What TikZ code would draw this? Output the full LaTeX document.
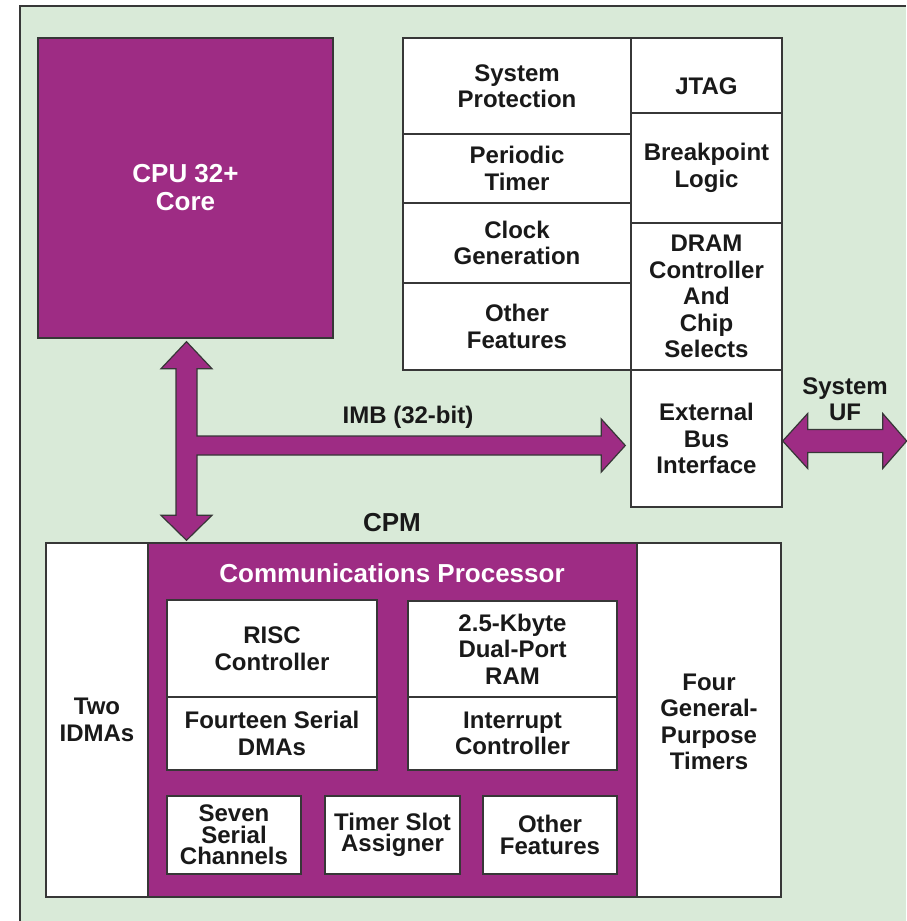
\documentclass[tikz,border=0pt]{standalone}
\usepackage{fontspec}
\setmainfont{Liberation Sans}
\usetikzlibrary{calc}
\definecolor{cpurple}{RGB}{158,44,132}
\definecolor{bggreen}{RGB}{217,234,216}
\definecolor{edge}{RGB}{55,55,55}
\definecolor{ink}{RGB}{25,25,25}
\newcommand\myBody{\bfseries\fontsize{24}{26.5}\selectfont}
\newcommand\myTight{\bfseries\fontsize{24}{21.5}\selectfont}
\newcommand\myBig{\bfseries\fontsize{26}{28}\selectfont}
\tikzset{
  cell/.style={draw=edge, line width=1.4pt, fill=white, inner sep=0pt, align=center, text=ink, font=\myBody},
  pbox/.style={draw=edge, line width=1.4pt, fill=cpurple, inner sep=0pt, align=center, text=white, font=\myBig},
  sz/.style 2 args={minimum width=#1, minimum height=#2},
  txt/.style={align=center, text=ink, font=\myBody, inner sep=0pt},
  wtxt/.style={align=center, text=white, font=\myBig, inner sep=0pt},
  bus/.style={draw=edge, line width=1.2pt, fill=cpurple, line join=miter},
}
\begin{document}
\begin{tikzpicture}[x=1pt,y=-1pt]
\useasboundingbox (0,0) rectangle (906,921);
\fill[white] (0,0) rectangle (906,921);
\fill[bggreen] (20,6) rectangle (906,921);
\draw[edge, line width=2pt] (20,921) -- (20,6) -- (906,6);

% CPU core
\node[pbox, sz={295pt}{300pt}] (cpu) at (185.5,188) {CPU 32+\\Core};

% right table
\node[cell, sz={228pt}{96pt}] (sysprot) at (517,86) {System\\Protection};
\node[cell, sz={228pt}{69pt}] (pit) at (517,168.5) {Periodic\\Timer};
\node[cell, sz={228pt}{80pt}] (clk) at (517,243) {Clock\\Generation};
\node[cell, sz={228pt}{87pt}] (oth1) at (517,326.5) {Other\\Features};
\node[cell, sz={151pt}{75pt}] (jtag) at (706.5,75.5) {};
\node[txt] (jtagt) at (706.5,86) {JTAG};
\node[cell, sz={151pt}{110pt}] (bkpt) at (706.5,168) {Breakpoint\\Logic};
\node[cell, sz={151pt}{147pt}] (dram) at (706.5,296.5) {DRAM\\Controller\\And\\Chip\\Selects};
\node[cell, sz={151pt}{137pt}] (ebi) at (706.5,438.5) {External\\Bus\\Interface};

% labels
\node[txt] (imb) at (408,417) {IMB (32-bit)};
\node[txt, font=\myBig] (cpmlbl) at (392,523) {CPM};
\node[txt] (sysuf) at (845,399) {System\\UF};

% CPM
\node[cell, sz={735pt}{354pt}] (cpm) at (413.5,720) {};
\node[pbox, sz={489pt}{354pt}] (cp) at (392.5,720) {};
\node[wtxt] (cptitle) at (392,573) {Communications Processor};
\node[cell, sz={210pt}{97pt}] (risc) at (272,648.5) {RISC\\Controller};
\node[cell, sz={210pt}{73pt}] (sdma) at (272,733.5) {Fourteen Serial\\DMAs};
\node[cell, sz={209pt}{96pt}] (ram) at (512.5,649) {2.5-Kbyte\\Dual-Port\\RAM};
\node[cell, sz={209pt}{73pt}] (intc) at (512.5,733.5) {Interrupt\\Controller};
\node[cell, font=\myTight, sz={134pt}{78pt}] (scc) at (234,835) {Seven\\Serial\\Channels};
\node[cell, font=\myTight, sz={135pt}{78pt}] (tsa) at (392.5,835) {Timer Slot\\Assigner};
\node[cell, font=\myTight, sz={134pt}{78pt}] (oth2) at (550,835) {Other\\Features};
\node[txt] (idma) at (97,720) {Two\\IDMAs};
\node[txt] (gpt) at (709,722) {Four\\General-\\Purpose\\Timers};

% IMB bus
\coordinate (vt) at ($(cpu.south)+(1,3)$);
\coordinate (vb) at ($(vt |- cpm.north)+(0,-2)$);
\coordinate (ht) at ($(ebi.west)+(-5,7)$);
\draw[bus] (vt) -- ++(25.5,27) -- ++(-15,0) |- ($(ht)+(-24,-9.5)$) -- ++(0,-17) -- (ht)
  -- ++(-24,26.5) -- ++(0,-17) -| ($(vb)+(10.5,-25)$) -- ++(15,0) -- (vb)
  -- ++(-25.5,-25) -- ++(15,0) |- ($(vt)+(-10.5,27)$) -- ++(-15,0) -- cycle;

% System UF arrow
\coordinate (ut) at ($(ebi.east)+(0,2.5)$);
\draw[bus] (ut) -- ++(25,-27.5) -- ++(0,16) -- ++(75,0) -- ++(0,-16) -- ++(24,27.5)
  -- ++(-24,27.5) -- ++(0,-16) -- ++(-75,0) -- ++(0,16) -- cycle;
\end{tikzpicture}
\end{document}
